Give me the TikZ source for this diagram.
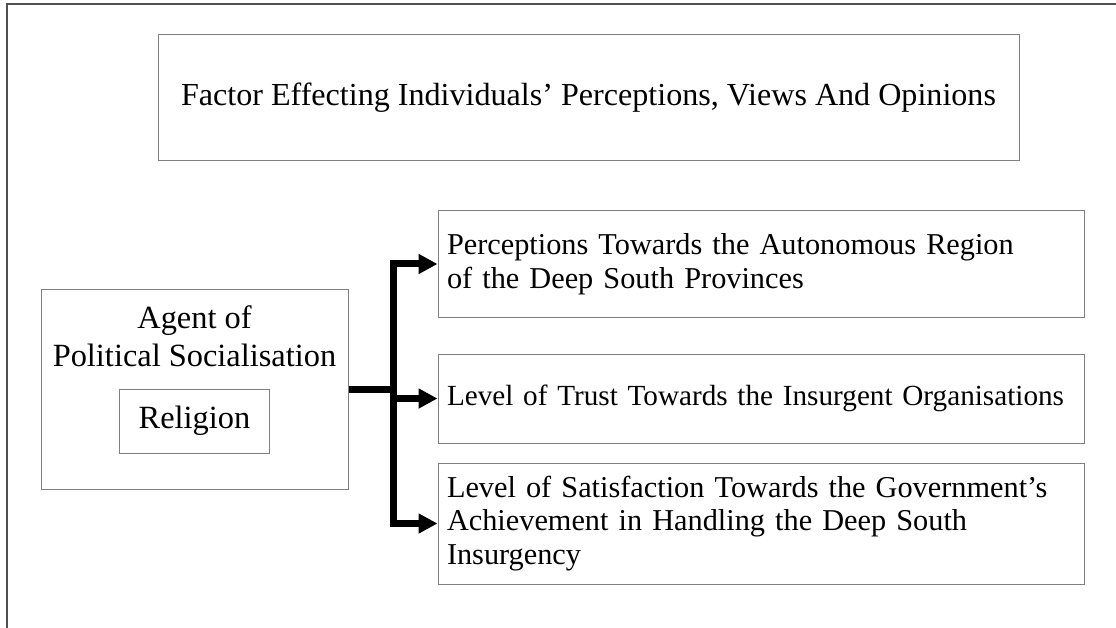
\documentclass[tikz,border=0pt]{standalone}
\usepackage{fontspec}
\setmainfont{Liberation Serif}
\usepackage{tikz}
\usetikzlibrary{positioning, arrows.meta}
\definecolor{bgray}{RGB}{128,128,128}
\definecolor{dgray}{RGB}{80,80,80}
\tikzstyle{Box} = [
draw=bgray,
line width=1pt,
inner sep=0pt]
\tikzstyle{TextBox} = [
Box,
inner xsep=9pt,
text width=628pt,
align=left,
font=\fontsize{30.3}{33.5}\selectfont]
\tikzstyle{Line} = [
line width=7pt,
black]
\tikzstyle{ArrowBlack} = [
Line,
line join=miter,
-{Triangle[length=19pt, width=19pt]}]

\begin{document}
\begin{tikzpicture}[x=1pt, y=-1pt]
    \useasboundingbox (0,0) rectangle (1116,628);
    \draw[dgray, line width=1.5pt] (1116,4) -- (7,4) -- (7,628);

    \node [Box, minimum width=861pt, minimum height=126pt,
        font=\fontsize{32.1}{38}\selectfont] (1) at (588.5,98)
        {Factor Effecting Individuals’ Perceptions, Views And Opinions};
    \node [Box, minimum width=307pt, minimum height=199pt] (2) at (194.5,389.5) {};
    \node [below=16pt of 2.north, align=center, inner sep=0pt,
        font=\fontsize{32.4}{38}\selectfont] (3) {Agent of\\Political Socialisation};
    \node [Box, above=36pt of 2.south, minimum width=150pt, minimum height=64pt,
        font=\fontsize{32.4}{38}\selectfont] (4) {Religion};
    \node [TextBox, minimum height=89pt, right=89pt of 2, yshift=-9pt,
        font=\fontsize{29.2}{33.5}\selectfont] (5)
        {\mbox{Level of Trust Towards the Insurgent Organisations}};
    \node [TextBox, minimum height=106pt, above=36pt of 5] (6)
        {Perceptions Towards the Autonomous Region\\of the Deep South Provinces};
    \node [TextBox, minimum height=121pt, below=19pt of 5] (7)
        {Level of Satisfaction Towards the Government’s\\Achievement in Handling the Deep South\\Insurgency};
    \coordinate [right=45pt of 2] (fork);

    \draw[Line] (2.east) -- (fork);
    \draw[ArrowBlack] (fork) |- (6.west);
    \draw[ArrowBlack] (fork) |- (5.west);
    \draw[ArrowBlack] (fork) |- (7.west);
\end{tikzpicture}
\end{document}
